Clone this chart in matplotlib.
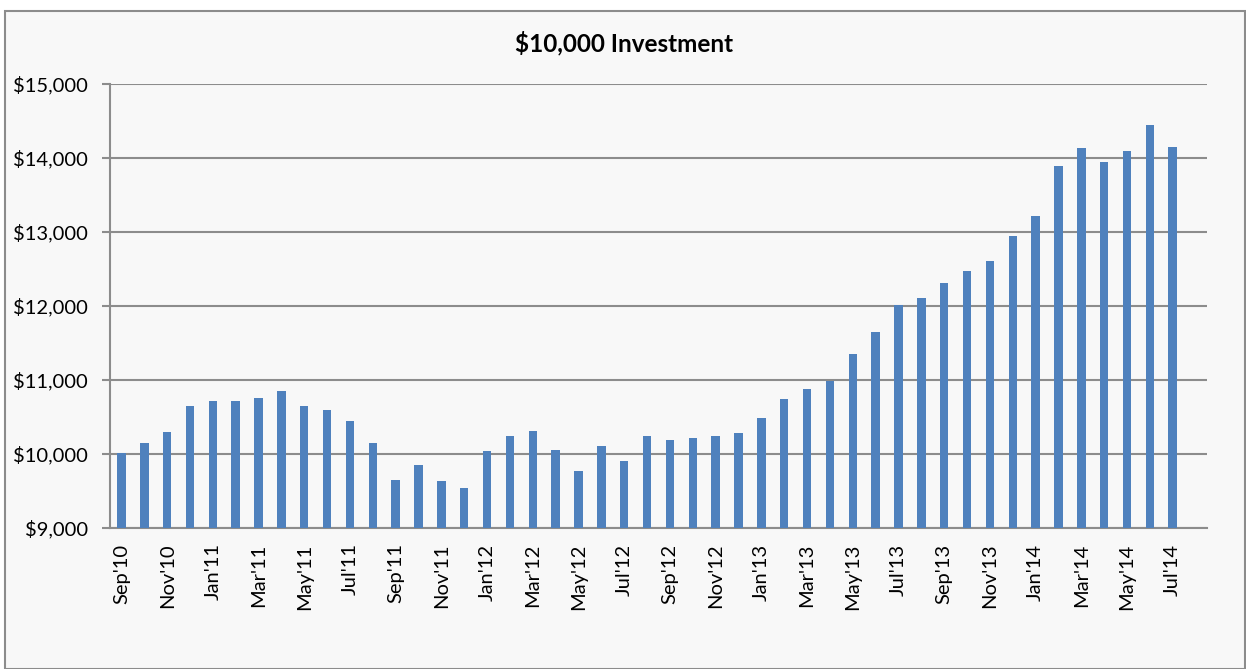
import matplotlib
matplotlib.use("Agg")
import matplotlib.pyplot as plt
import numpy as np
from matplotlib.patches import Rectangle
from matplotlib.ticker import FuncFormatter

months = ["Sep'10","Oct'10","Nov'10","Dec'10",
          "Jan'11","Feb'11","Mar'11","Apr'11","May'11","Jun'11","Jul'11","Aug'11","Sep'11","Oct'11","Nov'11","Dec'11",
          "Jan'12","Feb'12","Mar'12","Apr'12","May'12","Jun'12","Jul'12","Aug'12","Sep'12","Oct'12","Nov'12","Dec'12",
          "Jan'13","Feb'13","Mar'13","Apr'13","May'13","Jun'13","Jul'13","Aug'13","Sep'13","Oct'13","Nov'13","Dec'13",
          "Jan'14","Feb'14","Mar'14","Apr'14","May'14","Jun'14","Jul'14"]
values = [10010, 10148, 10287, 10646, 10713, 10713, 10758, 10852, 10646, 10596, 10444, 10148,
          9646, 9852, 9623, 9534, 10031, 10233, 10300, 10054, 9758, 10099, 9897, 10233,
          10188, 10215, 10233, 10283, 10484, 10735, 10870, 10987, 11351, 11648, 12011, 12101,
          12308, 12466, 12605, 12943, 13218, 13894, 14128, 13940, 14100, 14440, 14147]
yticks = [9000, 10000, 11000, 12000, 13000, 14000, 15000]
title = "$10,000 Investment"

plt.rcParams['font.family'] = ['Lato', 'DejaVu Sans']

W, H = 1246, 669
fig = plt.figure(figsize=(W/100, H/100), dpi=100, facecolor='white')
fig.patches.append(Rectangle((5/W, 0), (1245-5)/W, 1 - 11/H, transform=fig.transFigure,
                             facecolor='#f8f8f8', edgecolor='#8c8c8c', linewidth=1.5, zorder=-1))

ax = fig.add_axes([110/W, 1 - 527.5/H, (1207-110)/W, (527.5-84)/H])
ax.set_facecolor('none')
x = np.arange(len(months))
ax.bar(x, values, width=0.37, color='#4f81bd', zorder=3)
ax.set_xlim(-0.5, 47.5)
ax.set_ylim(9000, 15000)
ax.set_yticks(yticks)
ax.yaxis.set_major_formatter(FuncFormatter(lambda v, p: f"${v:,.0f}"))
ax.grid(axis='y', color='#8c8c8c', linewidth=1.5, zorder=1)
ax.set_axisbelow(True)
ax.set_xticks(x[::2])
ax.set_xticklabels(months[::2], rotation=90, fontsize=14.5)
ax.tick_params(axis='x', length=0, pad=11.5)
ax.tick_params(axis='y', length=6, width=1.5, color='#8c8c8c', labelsize=14.5, pad=10)
for s in ['top', 'right']:
    ax.spines[s].set_visible(False)
for s in ['left', 'bottom']:
    ax.spines[s].set_color('#8c8c8c')
    ax.spines[s].set_linewidth(1.5)
fig.text(624/W, 1 - 43/H, title, fontsize=17.5, fontweight='bold', ha='center', va='center')

fig.savefig("out.png", dpi=100, facecolor='white')
